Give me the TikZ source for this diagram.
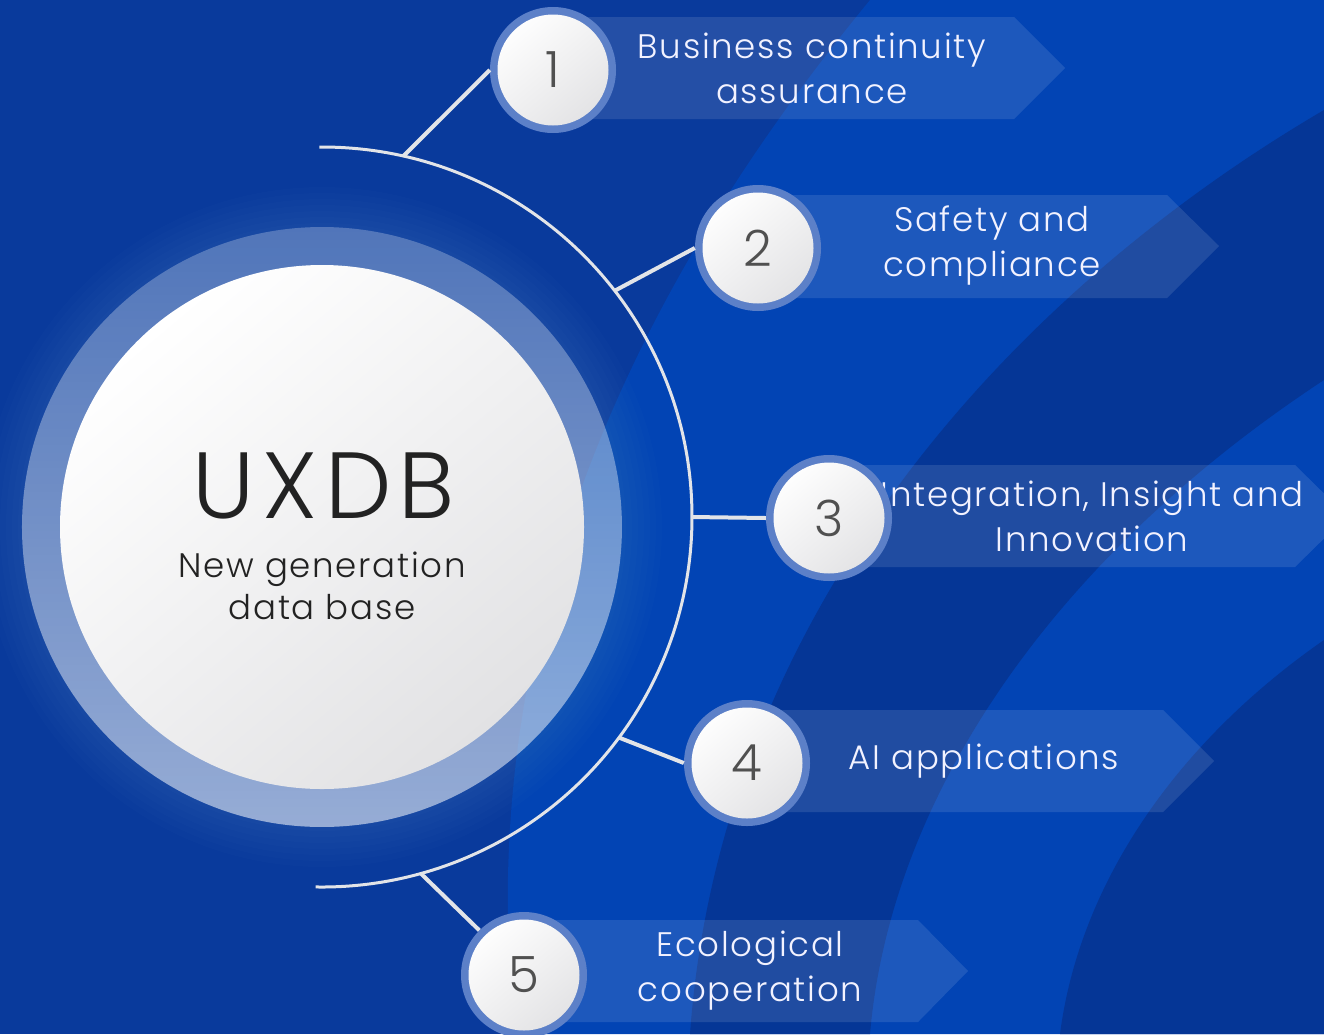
\documentclass[tikz,border=0pt]{standalone}
\usepackage{fontspec}
\setmainfont{Poppins Light}
\newfontfamily\labfont[LetterSpace=5]{Poppins Light}
\newfontfamily\uxfont[LetterSpace=8]{Poppins Light}
\usetikzlibrary{fadings}
\definecolor{bgc}{RGB}{9,58,156}
\definecolor{brightc}{RGB}{2,68,180}
\definecolor{darkc}{RGB}{5,54,150}
\definecolor{ringc}{RGB}{92,128,200}
\definecolor{linec}{RGB}{226,228,232}
\definecolor{numc}{RGB}{80,80,80}
\definecolor{titlec}{RGB}{34,34,34}
\definecolor{diskend}{RGB}{226,226,228}
\tikzfading[name=ringfade, top color=transparent!75, bottom color=transparent!45]
\tikzset{
  banner/.style={fill=white, fill opacity=0.11},
  numcirc/.style={circle, minimum size=126pt, inner sep=0pt, fill=ringc,
    font=\labfont\fontsize{50}{50}\selectfont, text=numc,
    path picture={\shade[top color=white, bottom color=diskend, shading angle=40]
      (path picture bounding box.center) circle (55.5pt);}},
  label/.style={align=center, text=white!95!blue, font=\labfont\fontsize{34}{45}\selectfont},
  conn/.style={line width=4pt, linec},
}
\begin{document}
\begin{tikzpicture}[x=1pt,y=-1pt]
\useasboundingbox (0,0) rectangle (1324,1034);
\begin{scope}
  \clip (0,0) rectangle (1324,1034);
  \fill[bgc] (0,0) rectangle (1324,1034);
  \fill[brightc] (870,0) .. controls (640,280) and (470,620) .. (515,1034) -- (1324,1034) -- (1324,0) -- cycle;
  \fill[darkc] (1324,110) .. controls (1000,300) and (720,620) .. (690,1034) -- (870,1034) .. controls (890,800) and (1050,560) .. (1324,380) -- cycle;
  \fill[darkc] (1324,640) .. controls (1180,740) and (1080,880) .. (1060,1034) -- (1324,1034) -- cycle;
  \foreach \r in {304,310,...,340} \fill[white, opacity=0.012] (322,527) circle (\r);
\end{scope}

% central circle
\fill[white, path fading=ringfade] (322,527) circle (300);
\shade[top color=white, bottom color=diskend, shading angle=40] (322,527) circle (262);
\node[text=titlec, font=\uxfont\fontsize{94}{94}\selectfont] (uxdb) at (324,486) {UXDB};
\node[text=titlec, align=center, font=\labfont\fontsize{34}{42}\selectfont] (sub) at (322,586) {New generation\\data base};

% arc
\draw[line width=3pt, linec] ([shift={(322,517)}]-90.4:370) arc[start angle=-90.4, end angle=91, radius=370];
\coordinate (a1) at ([shift={(322,517)}]-77.3:370);
\coordinate (a2) at ([shift={(322,517)}]-37.7:370);
\coordinate (a3) at ([shift={(322,517)}]0:370);
\coordinate (a4) at ([shift={(322,517)}]36.6:370);
\coordinate (a5) at ([shift={(322,517)}]74.5:370);

% banners
\fill[banner] (553,17) -- (1014,17) -- (1065,68) -- (1014,119) -- (553,119) -- cycle;
\fill[banner] (758,195) -- (1167,195) -- (1219,246) -- (1167,298) -- (758,298) -- cycle;
\fill[banner] (829,465) -- (1295,465) -- (1347,516) -- (1295,567) -- (829,567) -- cycle;
\fill[banner] (747,710) -- (1163,710) -- (1214,761) -- (1163,812) -- (747,812) -- cycle;
\fill[banner] (524,920) -- (918,920) -- (968,971) -- (918,1022) -- (524,1022) -- cycle;

\node[label] (t1) at (812,68) {Business continuity\\assurance};
\node[label] (t2) at (992,246) {Safety and\\compliance};
\node[label] (t3) at (1092,516) {Integration, Insight and\\Innovation};
\node[label] (t4) at (984,761) {AI applications};
\node[label] (t5) at (750,971) {Ecological\\cooperation};

% number circles
\node[numcirc] (n1) at (553,70) {1};
\node[numcirc] (n2) at (758,248) {2};
\node[numcirc] (n3) at (829,518) {3};
\node[numcirc] (n4) at (747,763) {4};
\node[numcirc] (n5) at (524,975) {5};

% connectors
\draw[conn] (a1) -- (n1.west);
\draw[conn] (a2) -- (n2.west);
\draw[conn] (a3) -- (n3.west);
\draw[conn] (a4) -- (n4.west);
\draw[conn] (a5) -- (n5.north west);
\end{tikzpicture}
\end{document}
